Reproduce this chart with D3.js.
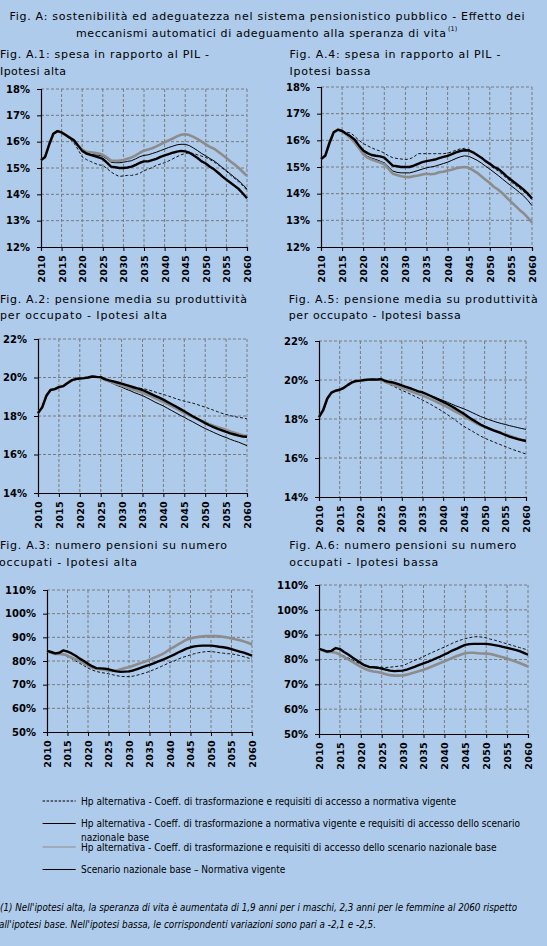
<!DOCTYPE html>
<html><head><meta charset="utf-8">
<script src="https://cdn.jsdelivr.net/npm/d3@7"></script>
<style>body{margin:0;background:#aecbeb;}svg{display:block;}</style>
</head><body>
<script>
// ---------- DATA ----------
const years = d3.range(2010, 2061);
const xTickYears = [2010,2015,2020,2025,2030,2035,2040,2045,2050,2055,2060];
const yTicksSpesa = [12,13,14,15,16,17,18];
const yTicksPensione = [14,16,18,20,22];
const yTicksNumero = [50,60,70,80,90,100,110];

// A.1 spesa/PIL - ipotesi alta
const a1Dashed = [15.30,15.42,15.90,16.30,16.40,16.35,16.22,16.10,15.95,15.70,
 15.42,15.32,15.25,15.18,15.12,15.10,14.98,14.85,14.75,14.68,
 14.70,14.72,14.72,14.75,14.80,14.90,14.95,15.02,15.10,15.15,
 15.20,15.27,15.35,15.43,15.50,15.55,15.58,15.55,15.50,15.45,
 15.40,15.32,15.23,15.12,15.00,14.87,14.73,14.60,14.47,14.32,14.15];
const a1Thin = [15.30,15.42,15.90,16.30,16.40,16.35,16.25,16.12,16.00,15.80,
 15.65,15.55,15.52,15.50,15.48,15.45,15.35,15.22,15.20,15.20,
 15.22,15.25,15.28,15.35,15.43,15.48,15.50,15.55,15.60,15.66,
 15.72,15.78,15.83,15.88,15.90,15.90,15.85,15.76,15.66,15.55,
 15.46,15.36,15.27,15.15,15.02,14.90,14.77,14.64,14.52,14.37,14.20];
const a1Gray = [15.30,15.42,15.90,16.30,16.40,16.35,16.25,16.15,16.05,15.85,
 15.70,15.62,15.60,15.58,15.55,15.50,15.40,15.28,15.27,15.28,
 15.30,15.35,15.40,15.48,15.58,15.66,15.70,15.75,15.82,15.90,
 15.98,16.05,16.12,16.20,16.26,16.28,16.25,16.18,16.10,16.00,
 15.90,15.80,15.73,15.62,15.50,15.38,15.25,15.13,15.00,14.85,14.70];
const a1Base = [15.30,15.42,15.90,16.30,16.40,16.35,16.25,16.15,16.05,15.85,
 15.65,15.55,15.50,15.45,15.40,15.35,15.20,15.05,15.03,15.00,
 15.00,15.02,15.05,15.12,15.20,15.25,15.25,15.30,15.35,15.42,
 15.48,15.53,15.58,15.62,15.65,15.63,15.58,15.48,15.38,15.25,
 15.17,15.05,14.95,14.82,14.68,14.56,14.44,14.32,14.20,14.03,13.85];

// A.4 spesa/PIL - ipotesi bassa
const a4Dashed = [15.30,15.42,15.90,16.30,16.40,16.35,16.30,16.28,16.15,16.00,
 15.88,15.80,15.72,15.65,15.60,15.52,15.42,15.35,15.32,15.30,
 15.28,15.30,15.38,15.50,15.50,15.50,15.50,15.50,15.50,15.50,
 15.52,15.57,15.63,15.68,15.70,15.65,15.57,15.45,15.33,15.20,
 15.08,14.95,14.85,14.72,14.58,14.45,14.33,14.20,14.08,13.95,13.78];
const a4Thin = [15.30,15.42,15.90,16.30,16.40,16.35,16.22,16.10,15.95,15.72,
 15.52,15.40,15.33,15.28,15.22,15.15,15.00,14.85,14.80,14.78,
 14.78,14.78,14.82,14.87,14.92,14.97,15.00,15.03,15.08,15.13,
 15.18,15.25,15.32,15.38,15.42,15.40,15.33,15.25,15.15,15.03,
 14.92,14.80,14.68,14.55,14.42,14.30,14.18,14.05,13.92,13.75,13.55];
const a4Gray = [15.30,15.42,15.90,16.30,16.40,16.35,16.22,16.08,15.92,15.70,
 15.48,15.35,15.28,15.22,15.17,15.10,14.93,14.75,14.70,14.65,
 14.63,14.62,14.65,14.68,14.72,14.75,14.73,14.75,14.80,14.82,
 14.87,14.90,14.95,14.98,15.00,14.97,14.88,14.78,14.65,14.52,
 14.40,14.25,14.15,14.02,13.85,13.70,13.55,13.40,13.27,13.10,12.92];
const a4Base = [15.30,15.42,15.90,16.30,16.40,16.35,16.25,16.15,16.02,15.80,
 15.62,15.52,15.45,15.42,15.40,15.35,15.20,15.05,15.03,15.00,
 15.00,15.00,15.05,15.12,15.18,15.22,15.25,15.28,15.33,15.38,
 15.42,15.48,15.55,15.60,15.63,15.62,15.55,15.45,15.35,15.22,
 15.12,15.00,14.93,14.80,14.65,14.52,14.40,14.28,14.15,14.00,13.82];

// A.2 pensione media / produttività - ipotesi alta
const a2Dashed = [18.15,18.45,19.05,19.35,19.40,19.50,19.55,19.70,19.85,19.92,
 19.95,19.97,20.00,20.05,20.03,20.02,19.92,19.85,19.78,19.70,
 19.62,19.58,19.54,19.50,19.46,19.42,19.38,19.32,19.25,19.18,
 19.12,19.05,18.98,18.90,18.83,18.77,18.72,18.67,18.60,18.53,
 18.46,18.38,18.30,18.22,18.14,18.08,18.02,17.97,17.93,17.90,17.85];
const a2Thin = [18.15,18.45,19.05,19.35,19.40,19.50,19.55,19.70,19.85,19.92,
 19.95,19.97,20.00,20.05,20.03,20.00,19.88,19.78,19.68,19.58,
 19.50,19.40,19.32,19.22,19.14,19.06,18.95,18.84,18.72,18.62,
 18.52,18.40,18.28,18.16,18.04,17.93,17.81,17.70,17.58,17.46,
 17.35,17.25,17.15,17.05,16.96,16.88,16.79,16.71,16.64,16.55,16.46];
const a2Gray = [18.15,18.45,19.05,19.35,19.40,19.50,19.55,19.70,19.85,19.92,
 19.95,19.97,20.00,20.05,20.03,20.00,19.88,19.80,19.72,19.65,
 19.58,19.50,19.43,19.36,19.28,19.22,19.12,19.03,18.93,18.83,
 18.73,18.62,18.51,18.40,18.28,18.17,18.06,17.95,17.85,17.75,
 17.66,17.57,17.49,17.42,17.35,17.28,17.20,17.13,17.06,17.00,16.95];
const a2Base = [18.15,18.45,19.05,19.35,19.40,19.50,19.55,19.70,19.85,19.92,
 19.95,19.97,20.00,20.05,20.03,20.02,19.92,19.85,19.80,19.74,
 19.68,19.62,19.55,19.48,19.42,19.35,19.25,19.15,19.05,18.95,
 18.85,18.73,18.61,18.49,18.37,18.25,18.12,17.99,17.87,17.75,
 17.63,17.52,17.42,17.33,17.25,17.17,17.10,17.04,16.98,16.93,16.92];

// A.5 pensione media / produttività - ipotesi bassa
const a5Dashed = [18.10,18.45,19.05,19.35,19.45,19.50,19.60,19.75,19.88,19.95,
 19.97,20.00,20.02,20.03,20.02,20.00,19.88,19.78,19.68,19.57,
 19.47,19.38,19.28,19.18,19.08,18.97,18.86,18.75,18.62,18.50,
 18.37,18.23,18.08,17.93,17.77,17.62,17.50,17.38,17.25,17.13,
 17.02,16.93,16.84,16.75,16.67,16.59,16.50,16.42,16.35,16.28,16.20];
const a5Thin = [18.10,18.45,19.05,19.35,19.45,19.50,19.60,19.75,19.88,19.95,
 19.97,20.00,20.02,20.03,20.02,20.05,19.95,19.88,19.83,19.77,
 19.70,19.63,19.55,19.48,19.42,19.36,19.27,19.18,19.10,19.02,
 18.95,18.86,18.77,18.68,18.60,18.52,18.43,18.33,18.23,18.13,
 18.05,17.97,17.90,17.83,17.77,17.72,17.66,17.61,17.56,17.51,17.47];
const a5Gray = [18.10,18.45,19.05,19.35,19.45,19.50,19.60,19.75,19.88,19.95,
 19.97,20.00,20.02,20.03,20.02,20.02,19.90,19.82,19.75,19.68,
 19.60,19.52,19.44,19.36,19.28,19.20,19.11,19.02,18.92,18.82,
 18.72,18.61,18.50,18.38,18.27,18.15,18.02,17.90,17.78,17.68,
 17.60,17.51,17.43,17.36,17.29,17.21,17.14,17.07,17.00,16.94,16.90];
const a5Base = [18.10,18.45,19.05,19.35,19.45,19.50,19.60,19.75,19.88,19.95,
 19.97,20.00,20.02,20.03,20.02,20.05,19.95,19.90,19.87,19.80,
 19.72,19.65,19.58,19.50,19.42,19.37,19.28,19.18,19.08,18.98,
 18.88,18.77,18.65,18.53,18.40,18.27,18.12,17.98,17.85,17.72,
 17.61,17.52,17.43,17.35,17.27,17.18,17.10,17.03,16.97,16.92,16.87];

// A.3 numero pensioni / occupati - ipotesi alta
const a3Dashed = [84.3,83.5,83.0,83.0,82.8,82.0,81.0,80.0,79.0,78.0,
 77.0,76.2,75.6,75.2,74.9,74.6,74.2,73.8,73.5,73.4,
 73.4,73.6,74.0,74.5,75.0,75.6,76.3,77.0,77.8,78.6,
 79.4,80.0,80.8,81.5,82.0,82.6,83.1,83.5,83.8,84.0,
 84.0,83.8,83.5,83.3,83.1,83.0,82.7,82.3,81.8,81.3,80.8];
const a3Thin = [84.3,83.5,83.0,83.0,82.8,82.3,81.5,80.8,80.0,79.0,
 78.0,77.2,76.8,76.5,76.3,76.0,75.8,76.0,76.5,77.0,
 77.4,78.0,78.6,79.2,79.8,80.5,81.3,82.0,82.8,83.8,
 85.0,86.0,87.0,88.0,89.0,89.5,89.9,90.2,90.4,90.5,
 90.5,90.5,90.4,90.2,89.9,89.5,89.2,88.8,88.3,87.7,87.0];
const a3Gray = [84.3,83.5,83.0,83.0,82.8,82.3,81.5,80.8,80.0,79.0,
 78.0,77.2,76.8,76.5,76.3,76.0,75.8,76.0,76.5,77.0,
 77.4,78.0,78.6,79.2,79.8,80.5,81.3,82.0,82.8,83.8,
 85.0,86.0,87.0,88.0,89.0,89.5,89.9,90.2,90.4,90.5,
 90.5,90.5,90.4,90.2,89.9,89.5,89.2,88.8,88.3,87.7,87.0];
const a3Base = [84.3,83.8,83.2,83.5,84.5,84.0,83.2,82.2,81.0,80.0,
 78.8,77.8,77.0,76.9,76.8,76.5,76.0,75.6,75.4,75.5,
 75.6,76.0,76.6,77.2,77.8,78.4,79.0,79.7,80.4,81.1,
 81.9,82.7,83.6,84.4,85.2,85.8,86.2,86.4,86.5,86.5,
 86.5,86.3,86.0,85.8,85.5,85.0,84.5,84.0,83.5,82.9,82.3];

// A.6 numero pensioni / occupati - ipotesi bassa
const a6Dashed = [84.3,83.5,83.0,83.0,82.8,82.2,81.4,80.6,79.8,78.9,
 78.1,77.5,77.1,76.9,76.9,76.9,76.8,76.9,77.1,77.3,
 77.5,78.2,79.0,79.7,80.4,81.2,82.0,82.8,83.5,84.3,
 85.0,85.8,86.6,87.3,87.9,88.4,88.8,89.1,89.2,89.0,
 88.7,88.2,87.8,87.3,86.8,86.3,85.8,85.3,84.8,84.3,83.8];
const a6Thin = [84.3,83.5,83.0,83.0,82.7,82.0,81.0,80.0,79.0,78.0,
 77.0,76.2,75.6,75.2,75.0,74.6,74.1,73.7,73.5,73.5,
 73.6,73.9,74.4,74.9,75.4,75.9,76.5,77.2,77.9,78.6,
 79.3,80.0,80.7,81.4,82.0,82.5,82.7,82.7,82.5,82.4,
 82.4,82.2,81.8,81.3,80.9,80.4,79.8,79.2,78.6,77.9,77.2];
const a6Gray = [84.3,83.5,83.0,83.0,82.7,82.0,81.0,80.0,79.0,78.0,
 77.0,76.2,75.6,75.2,75.0,74.6,74.1,73.7,73.5,73.5,
 73.6,73.9,74.4,74.9,75.4,75.9,76.5,77.2,77.9,78.6,
 79.3,80.0,80.7,81.4,82.0,82.5,82.7,82.7,82.5,82.4,
 82.4,82.2,81.8,81.3,80.9,80.4,79.8,79.2,78.6,77.9,77.2];
const a6Base = [84.3,83.8,83.2,83.5,84.6,84.2,83.0,82.0,80.8,79.7,
 78.6,77.6,77.0,76.9,76.7,76.3,75.9,75.5,75.3,75.4,
 75.5,75.9,76.5,77.1,77.8,78.4,79.0,79.7,80.5,81.2,
 82.0,82.8,83.7,84.4,85.2,85.9,86.2,86.3,86.3,86.3,
 86.3,86.1,85.8,85.5,85.1,84.7,84.3,83.9,83.4,82.7,81.9];

const mainTitle = ["Fig. A: sostenibilità ed adeguatezza nel sistema pensionistico pubblico - Effetto dei",
                   "meccanismi automatici di adeguamento alla speranza di vita"];
const legendLabels = ["Hp alternativa - Coeff. di trasformazione e requisiti di accesso a normativa vigente",
  "Hp alternativa - Coeff. di trasformazione a normativa vigente e requisiti di accesso dello scenario",
  "nazionale base",
  "Hp alternativa - Coeff. di trasformazione e requisiti di accesso dello scenario nazionale base",
  "Scenario nazionale base – Normativa vigente"];
const footnote = ["(1) Nell'ipotesi alta, la speranza di vita è aumentata di 1,9 anni per i maschi, 2,3 anni per le femmine al 2060 rispetto",
  "all'ipotesi base. Nell'ipotesi bassa, le corrispondenti variazioni sono pari a -2,1 e -2,5."];

// ---------- LAYOUT ----------
const W = 547, H = 946;
const svg = d3.select("body").append("svg").attr("width", W).attr("height", H);
svg.append("rect").attr("width", W).attr("height", H).attr("fill", "#aecbeb");

const titleFont = "'DejaVu Sans', Verdana, sans-serif";
function tline(txt, x, y, len, opts = {}) {
  const t = svg.append("text").attr("x", x).attr("y", y).text(txt)
    .attr("font-family", opts.family || titleFont)
    .attr("font-size", opts.size || 11)
    .attr("font-weight", opts.weight || "normal")
    .attr("font-style", opts.style || "normal")
    .attr("fill", "#000");
  if (len) t.attr("textLength", len).attr("lengthAdjust", opts.adjust || "spacing");
  return t;
}

// main title
tline(mainTitle[0], 9.5, 20, 515, {size: 11});
tline(mainTitle[1], 76, 36.5, 370, {size: 11});
tline("(1)", 448, 31, null, {size: 6.5});

const panels = [
  {t: ["Fig. A.1: spesa in rapporto al PIL -", "Ipotesi alta"], tx: 0, ty: [58, 75], tl: [209, 66],
   x0: 41, x1: 247, y0: 89, y1: 247, dom: [12, 18], ticks: yTicksSpesa,
   s: [a1Dashed, a1Thin, a1Gray, a1Base]},
  {t: ["Fig. A.4: spesa in rapporto al PIL -", "Ipotesi bassa"], tx: 289.5, ty: [58, 75], tl: [211, 81],
   x0: 321, x1: 532, y0: 87, y1: 247, dom: [12, 18], ticks: yTicksSpesa,
   s: [a4Dashed, a4Thin, a4Gray, a4Base]},
  {t: ["Fig. A.2: pensione media su produttività", "per occupato - Ipotesi alta"], tx: 0, ty: [303, 319], tl: [247, 167],
   x0: 38, x1: 247, y0: 339, y1: 493, dom: [14, 22], ticks: yTicksPensione,
   s: [a2Dashed, a2Thin, a2Gray, a2Base]},
  {t: ["Fig. A.5: pensione media su produttività", "per occupato - Ipotesi bassa"], tx: 288.7, ty: [303, 319], tl: [249, 172],
   x0: 319, x1: 526, y0: 341, y1: 497, dom: [14, 22], ticks: yTicksPensione,
   s: [a5Dashed, a5Thin, a5Gray, a5Base]},
  {t: ["Fig. A.3: numero pensioni su numero", "occupati - Ipotesi alta"], tx: 0, ty: [549, 566], tl: [227, 138],
   x0: 47, x1: 252, y0: 590, y1: 732, dom: [50, 110], ticks: yTicksNumero,
   s: [a3Dashed, a3Thin, a3Gray, a3Base]},
  {t: ["Fig. A.6: numero pensioni su numero", "occupati - Ipotesi bassa"], tx: 289.3, ty: [549, 566], tl: [227, 149],
   x0: 319, x1: 528, y0: 585, y1: 734, dom: [50, 110], ticks: yTicksNumero,
   s: [a6Dashed, a6Thin, a6Gray, a6Base]}
];

const styles = [
  {stroke: "#000", width: 0.9, dash: "3,2"},
  {stroke: "#000", width: 1.0, dash: null},
  {stroke: "#8c8c8c", width: 2.6, dash: null},
  {stroke: "#000", width: 2.4, dash: null}
];

panels.forEach(p => {
  p.t.forEach((line, i) => tline(line, p.tx - (i === 1 && p.tx === 0 && p.dom[0] === 50 ? 1 : 0), p.ty[i], p.tl[i]));
  const x = d3.scaleLinear().domain([2010, 2060]).range([p.x0, p.x1]);
  const y = d3.scaleLinear().domain(p.dom).range([p.y1, p.y0]);
  const g = svg.append("g");
  // grid
  g.selectAll(".hg").data(p.ticks.slice(1)).join("line")
    .attr("x1", p.x0).attr("x2", p.x1).attr("y1", d => y(d)).attr("y2", d => y(d))
    .attr("stroke", "#7a7a7a").attr("stroke-width", 1).attr("stroke-dasharray", "3,2");
  g.selectAll(".vg").data(xTickYears.slice(1)).join("line")
    .attr("x1", d => x(d)).attr("x2", d => x(d)).attr("y1", p.y0).attr("y2", p.y1)
    .attr("stroke", "#7a7a7a").attr("stroke-width", 1).attr("stroke-dasharray", "3,2");
  // axes
  const ya = g.append("g").attr("transform", `translate(${p.x0},0)`)
    .call(d3.axisLeft(y).tickValues(p.ticks).tickSize(4).tickPadding(7).tickFormat(d => d + "%"));
  const xa = g.append("g").attr("transform", `translate(0,${p.y1})`)
    .call(d3.axisBottom(x).tickValues(xTickYears).tickSize(4).tickFormat(d3.format("d")));
  [ya, xa].forEach(a => {
    a.select(".domain").attr("stroke", "#000").attr("stroke-width", 1.2);
    a.selectAll(".tick line").attr("stroke", "#000");
    a.selectAll("text").attr("font-family", titleFont).attr("font-weight", "bold")
      .attr("font-size", 10).attr("fill", "#000");
  });
  xa.selectAll(".tick text").attr("transform", "rotate(-90)")
    .attr("x", -8).attr("y", 0).attr("dy", "0.36em").attr("text-anchor", "end")
    .attr("font-size", 9.5).attr("letter-spacing", "0.3px");
  // lines
  const line = d3.line().x((d, i) => x(years[i])).y(d => y(d));
  p.s.forEach((vals, k) => {
    const st = styles[k];
    g.append("path").datum(vals).attr("d", line).attr("fill", "none")
      .attr("stroke", st.stroke).attr("stroke-width", st.width)
      .attr("stroke-linejoin", "round")
      .attr("stroke-dasharray", st.dash);
  });
});

// legend
const legendFont = "'Liberation Sans Narrow', 'DejaVu Sans Condensed', 'Liberation Sans', sans-serif";
const legRows = [
  {y: 801, style: {stroke: "#000", w: 1, dash: "2.5,1.5"}, lab: [0], ly: [804.5], len: [375]},
  {y: 823.5, style: {stroke: "#000", w: 1.2, dash: null}, lab: [1, 2], ly: [827, 840.5], len: [439, 68]},
  {y: 847, style: {stroke: "#8c8c8c", w: 1.2, dash: null}, lab: [3], ly: [850.5], len: [415.5]},
  {y: 869.5, style: {stroke: "#000", w: 1.2, dash: null}, lab: [4], ly: [873], len: [204.4]}
];
legRows.forEach(r => {
  svg.append("line").attr("x1", 42.6).attr("x2", 75.7).attr("y1", r.y).attr("y2", r.y)
    .attr("stroke", r.style.stroke).attr("stroke-width", r.style.w).attr("stroke-dasharray", r.style.dash);
  r.lab.forEach((li, j) => tline(legendLabels[li], 81, r.ly[j], r.len[j],
    {family: legendFont, size: 10, adjust: "spacingAndGlyphs"}));
});

// footnote
tline(footnote[0], 0, 911, 517, {family: legendFont, size: 10, style: "italic", adjust: "spacingAndGlyphs"});
tline(footnote[1], -1, 927.5, 377, {family: legendFont, size: 10, style: "italic", adjust: "spacingAndGlyphs"});
</script>
</body></html>
